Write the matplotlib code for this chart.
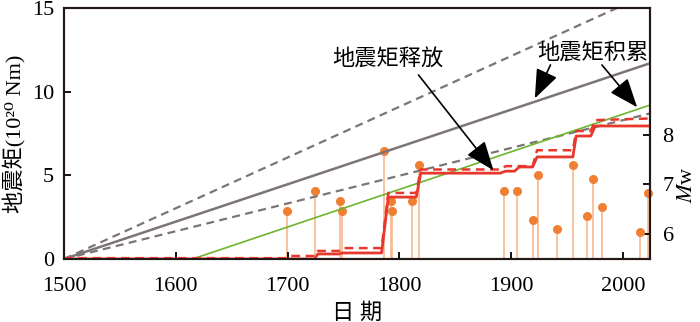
import numpy as np
import matplotlib
matplotlib.use("Agg")
import matplotlib.pyplot as plt

plt.rcParams['font.family'] = ['Liberation Serif', 'Noto Sans CJK SC', 'DejaVu Serif']
plt.rcParams['mathtext.fontset'] = 'stix'

# accumulation / release lines (year, moment 1e20 Nm)
acc_mid_x = [1500, 2024]
acc_mid_y = [0, 11.7]
acc_hi_x = [1500, 2024]
acc_hi_y = [0, 15.9]
acc_lo_x = [1500, 2024]
acc_lo_y = [0, 8.7]
green_x = [1615, 2024]
green_y = [0, 9.2]

rel_years = [1500, 1724, 1727, 1746, 1749, 1784, 1790, 1815, 1819, 1890, 1895,
             1903, 1907, 1919, 1923, 1955, 1958, 1971, 1975, 2024]
rel_vals = [0, 0, 0.3, 0.3, 0.36, 0.36, 3.7, 3.7, 5.13, 5.13, 5.25,
            5.25, 5.5, 5.5, 6.1, 6.1, 7.35, 7.35, 7.95, 7.95]
rel2_years = [1500, 1698, 1701, 1724, 1727, 1746, 1749, 1784, 1790, 1815, 1819,
              1890, 1895, 1919, 1923, 1955, 1958, 1971, 1975, 2024]
rel2_vals = [0.05, 0.05, 0.18, 0.18, 0.48, 0.48, 0.65, 0.65, 3.95, 3.95, 5.35,
             5.35, 5.55, 5.55, 6.5, 6.5, 7.65, 7.65, 8.3, 8.4]

# earthquakes (year, Mw)
eq_years = [1699.5, 1724.5, 1747, 1748.5, 1786, 1792.5, 1793.5, 1811.5, 1817,
            1893.5, 1905, 1919.5, 1924, 1941, 1955, 1968, 1973, 1981, 2015, 2022]
eq_mw = [6.46, 6.86, 6.66, 6.46, 7.66, 6.66, 6.46, 6.66, 7.38,
         6.86, 6.86, 6.28, 7.18, 6.1, 7.38, 6.36, 7.1, 6.54, 6.04, 6.82]

gray = '#7d7475'
red = '#e8372c'
green = '#6cb52f'
spine_c = '#231815'

fig = plt.figure(figsize=(7, 3.22), dpi=100)
ax = fig.add_axes([0.0914, 0.1957, 0.8372, 0.7793])
ax2 = ax.twinx()

# stems on magnitude axis
ax2.vlines(eq_years, 5.5, eq_mw, color='#f7b88d', lw=1.2, zorder=1)
ax2.scatter(eq_years, eq_mw, s=30, color='#ef7f33', zorder=2, clip_on=False)
ax2.set_ylim(5.5, 10.54)
ax2.set_yticks([6, 7, 8])

ax.set_zorder(ax2.get_zorder() + 1)
ax.patch.set_visible(False)

ax.plot(acc_hi_x, acc_hi_y, color=gray, lw=1.6, dashes=(3.6, 2.4))
ax.plot(acc_mid_x, acc_mid_y, color=gray, lw=1.8)
ax.plot(acc_lo_x, acc_lo_y, color=gray, lw=1.6, dashes=(3.6, 2.4))
ax.plot(green_x, green_y, color=green, lw=1.2)
ax.plot(rel2_years, rel2_vals, color=red, lw=1.8, dashes=(3.5, 2.2))
ax.plot(rel_years, rel_vals, color=red, lw=2.0)

ax.set_xlim(1500, 2024)
ax.set_ylim(0, 15)
ax.set_xticks([1500, 1600, 1700, 1800, 1900, 2000])
ax.set_yticks([0, 5, 10, 15])

for a in (ax, ax2):
    a.tick_params(direction='in', length=5, width=1.3, labelsize=16, colors='black')
    for s in a.spines.values():
        s.set_linewidth(1.5)
        s.set_color(spine_c)
ax.tick_params(axis='x', pad=13)
ax.tick_params(axis='y', pad=7)
ax2.tick_params(axis='y', pad=9)

ax.set_xlabel('日 期', fontsize=16, labelpad=5)
ax.set_ylabel('地震矩(10²⁰ Nm)', fontsize=16, labelpad=4)
ax2.set_ylabel('$M$w', fontsize=16)
ax2.yaxis.set_label_coords(1.047, 0.295)

arrow = dict(arrowstyle='-|>,head_length=0.9,head_width=0.35', color='black',
             lw=1.2, mutation_scale=20, shrinkA=0, shrinkB=0)
ax.text(1790, 11.9, '地震矩释放', fontsize=16, ha='center', va='center')
ax.annotate('', xy=(1884, 5.3), xytext=(1817, 11.0), arrowprops=arrow)
ax.text(1973, 12.3, '地震矩积累', fontsize=16, ha='center', va='center')
ax.annotate('', xy=(1921, 9.6), xytext=(1935, 11.6), arrowprops=arrow)
ax.annotate('', xy=(2012.5, 9.07), xytext=(1981, 11.6), arrowprops=arrow)

fig.savefig('out.png', dpi=100)
